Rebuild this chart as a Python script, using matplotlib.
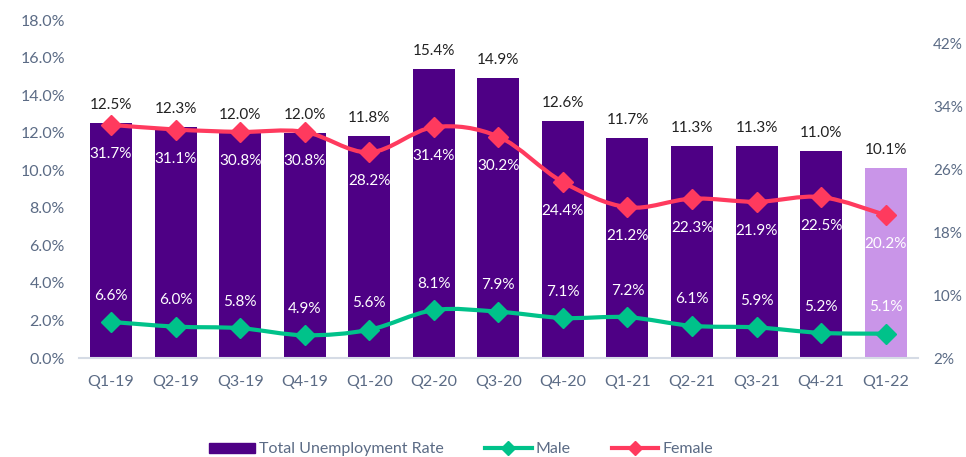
import matplotlib
matplotlib.use("Agg")
import matplotlib.pyplot as plt
from matplotlib.lines import Line2D
from matplotlib.patches import Patch, PathPatch
from matplotlib.path import Path
import numpy as np

plt.rcParams['font.family'] = ['Lato', 'DejaVu Sans']

quarters = ["Q1-19", "Q2-19", "Q3-19", "Q4-19", "Q1-20", "Q2-20", "Q3-20",
            "Q4-20", "Q1-21", "Q2-21", "Q3-21", "Q4-21", "Q1-22"]
total = [12.5, 12.3, 12.0, 12.0, 11.8, 15.4, 14.9, 12.6, 11.7, 11.3, 11.3, 11.0, 10.1]
female = [31.7, 31.1, 30.8, 30.8, 28.2, 31.4, 30.2, 24.4, 21.2, 22.3, 21.9, 22.5, 20.2]
male = [6.6, 6.0, 5.8, 4.9, 5.6, 8.1, 7.9, 7.1, 7.2, 6.1, 5.9, 5.2, 5.1]

left_ticks = [0, 2, 4, 6, 8, 10, 12, 14, 16, 18]
right_ticks = [2, 10, 18, 26, 34, 42]

bar_color = "#4E0085"
last_color = "#C995E8"
male_color = "#00C28A"
female_color = "#FF3A5E"
tick_color = "#5B6B85"


def smooth_path(xs, ys):
    """Catmull-Rom style Bezier path through the data points (smoothed line rendering)."""
    pts = np.column_stack([xs, ys]).astype(float)
    verts = [pts[0]]
    codes = [Path.MOVETO]
    n = len(pts)
    for i in range(n - 1):
        p0 = pts[i - 1] if i > 0 else pts[i]
        p1 = pts[i]
        p2 = pts[i + 1]
        p3 = pts[i + 2] if i + 2 < n else pts[i + 1]
        c1 = p1 + (p2 - p0) / 6.0
        c2 = p2 - (p3 - p1) / 6.0
        verts += [c1, c2, p2]
        codes += [Path.CURVE4] * 3
    return Path(verts, codes)


fig = plt.figure(figsize=(9.66, 4.57), dpi=100)
ax = fig.add_axes([0.0815, 0.2166, 0.8688, 0.7396])
ax2 = ax.twinx()

x = np.arange(len(quarters))
colors = [bar_color] * (len(quarters) - 1) + [last_color]
ax.bar(x, total, width=0.65, color=colors, zorder=2)
ax.set_ylim(0, 18)
ax.set_xlim(-0.5, len(quarters) - 0.5)
ax.set_yticks(left_ticks)
ax.set_yticklabels([f"{t:.1f}%" for t in left_ticks])
ax.set_xticks(x)
ax.set_xticklabels(quarters)
ax.tick_params(axis='both', length=0, labelsize=11.5, colors=tick_color)
ax.tick_params(axis='y', pad=10)
ax.tick_params(axis='x', pad=12)
for s in ["top", "right", "left"]:
    ax.spines[s].set_visible(False)
ax.spines["bottom"].set_color("#D5DBE5")
ax.spines["bottom"].set_linewidth(1.5)

for xi, v in zip(x, total):
    ax.annotate(f"{v:.1f}%", (xi, v), xytext=(0, 8), textcoords="offset points",
                ha="center", va="bottom", fontsize=11, color="#222222")

for series, col in [(female, female_color), (male, male_color)]:
    ax2.add_patch(PathPatch(smooth_path(x, series), facecolor="none", edgecolor=col,
                            lw=3, capstyle="round", joinstyle="round", zorder=3))
    ax2.plot(x, series, linestyle="none", marker="D", markersize=10, color=col, zorder=4)

ax2.set_ylim(2, 45.05)
ax2.set_yticks(right_ticks)
ax2.set_yticklabels([f"{t}%" for t in right_ticks])
ax2.tick_params(axis='y', length=0, labelsize=11, colors=tick_color, pad=11)
for s in ["top", "right", "left", "bottom"]:
    ax2.spines[s].set_visible(False)

for xi, v in zip(x, female):
    ax2.annotate(f"{v:.1f}%", (xi, v), xytext=(0, -21), textcoords="offset points",
                 ha="center", va="center", fontsize=11, color="white")
for xi, v in zip(x, male):
    ax2.annotate(f"{v:.1f}%", (xi, v), xytext=(0, 19), textcoords="offset points",
                 ha="center", va="center", fontsize=11, color="white")

handles = [Patch(color=bar_color, label="Total Unemployment Rate"),
           Line2D([0], [0], color=male_color, lw=3, marker="D", markersize=7, label="Male"),
           Line2D([0], [0], color=female_color, lw=3, marker="D", markersize=7, label="Female")]
leg = fig.legend(handles=handles, loc="center", bbox_to_anchor=(0.477, 0.017), ncol=3,
                 frameon=False, fontsize=11.5, handlelength=2.9, columnspacing=2.6,
                 handletextpad=0.25, labelcolor=tick_color, handleheight=0.6)

fig.savefig("out.png", dpi=100)
